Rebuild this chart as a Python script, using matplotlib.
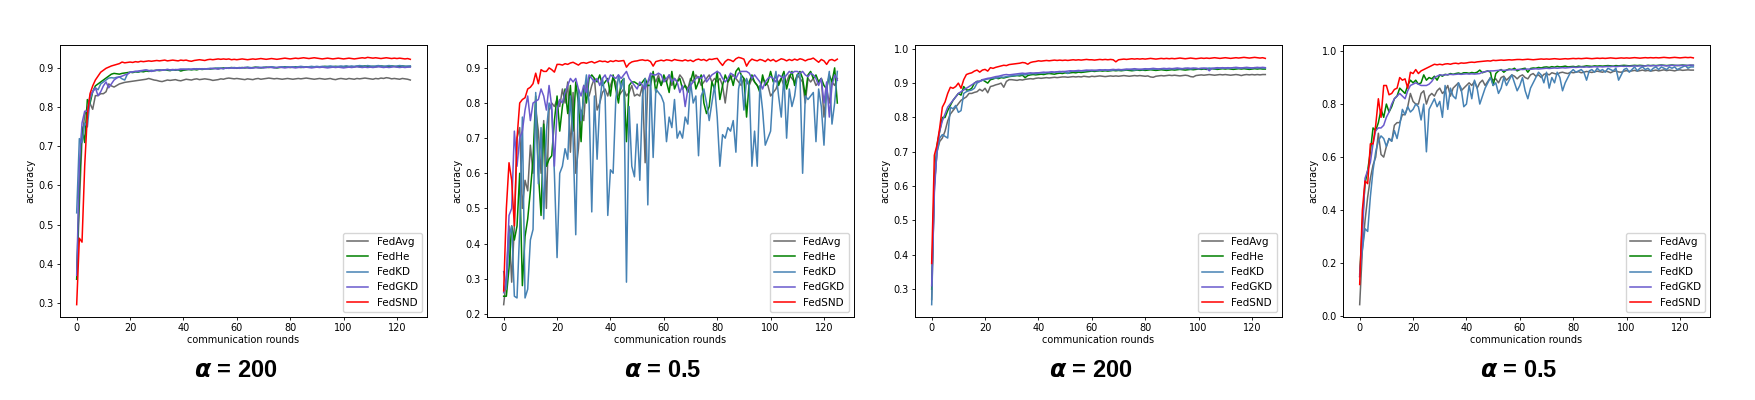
import numpy as np
import matplotlib
matplotlib.use('Agg')
import matplotlib.pyplot as plt

plt.rcParams['mathtext.fontset'] = 'custom'
plt.rcParams['mathtext.it'] = 'DejaVu Sans:italic:bold'

methods = ['FedAvg', 'FedHe', 'FedKD', 'FedGKD', 'FedSND']
colors = ['dimgray', 'green', 'steelblue', 'slateblue', 'red']
titles = ['200', '0.5', '200', '0.5']

# ---- panel 1 : alpha = 200 ----
p1_avg = [0.360, 0.550, 0.720, 0.780, 0.800, 0.810, 0.795, 0.830, 0.830, 0.835,
          0.835, 0.840, 0.860, 0.855, 0.852, 0.856, 0.860, 0.862, 0.864, 0.865,
          0.866, 0.867, 0.868, 0.869, 0.870, 0.871, 0.872, 0.874, 0.872, 0.870,
          0.869, 0.867, 0.866, 0.868, 0.870, 0.869, 0.870, 0.871, 0.869, 0.868,
          0.870, 0.872, 0.871, 0.870, 0.872, 0.873, 0.871, 0.872, 0.873, 0.872,
          0.871, 0.869, 0.870, 0.871, 0.873, 0.872, 0.874, 0.875, 0.874, 0.873,
          0.874, 0.873, 0.872, 0.871, 0.873, 0.872, 0.871, 0.873, 0.874, 0.872,
          0.873, 0.874, 0.875, 0.874, 0.873, 0.874, 0.873, 0.872, 0.873, 0.874,
          0.873, 0.872, 0.873, 0.874, 0.873, 0.874, 0.875, 0.874, 0.873, 0.872,
          0.873, 0.874, 0.873, 0.872, 0.873, 0.874, 0.872, 0.871, 0.873, 0.874,
          0.873, 0.872, 0.874, 0.873, 0.872, 0.874, 0.873, 0.874, 0.875, 0.874,
          0.873, 0.872, 0.874, 0.873, 0.875, 0.874, 0.876, 0.875, 0.873, 0.874,
          0.873, 0.872, 0.874, 0.873, 0.872, 0.870]
p1_he = [0.360, 0.600, 0.750, 0.710, 0.820, 0.810, 0.840, 0.855, 0.860, 0.865,
         0.870, 0.875, 0.880, 0.885, 0.887, 0.886, 0.885, 0.887, 0.888, 0.889,
         0.890, 0.889, 0.891, 0.890, 0.892, 0.891, 0.893, 0.892, 0.893, 0.894,
         0.895, 0.894, 0.895, 0.896, 0.895, 0.894, 0.896, 0.895, 0.896, 0.893,
         0.895, 0.896, 0.897, 0.896, 0.897, 0.896, 0.898, 0.897, 0.898, 0.899,
         0.898, 0.899, 0.900, 0.899, 0.900, 0.901, 0.900, 0.901, 0.902, 0.901,
         0.900, 0.901, 0.902, 0.901, 0.902, 0.901, 0.902, 0.903, 0.902, 0.901,
         0.902, 0.903, 0.902, 0.903, 0.902, 0.901, 0.902, 0.903, 0.904, 0.903,
         0.902, 0.903, 0.904, 0.903, 0.902, 0.903, 0.904, 0.903, 0.904, 0.903,
         0.904, 0.903, 0.904, 0.905, 0.904, 0.903, 0.904, 0.905, 0.904, 0.903,
         0.904, 0.905, 0.904, 0.903, 0.904, 0.905, 0.904, 0.905, 0.906, 0.905,
         0.904, 0.905, 0.904, 0.905, 0.906, 0.905, 0.904, 0.905, 0.906, 0.905,
         0.904, 0.905, 0.906, 0.905, 0.904, 0.905]
p1_kd = [0.530, 0.720, 0.710, 0.760, 0.750, 0.820, 0.840, 0.850, 0.845, 0.860,
         0.865, 0.870, 0.875, 0.876, 0.875, 0.877, 0.878, 0.873, 0.870, 0.885,
         0.890, 0.891, 0.892, 0.891, 0.893, 0.894, 0.895, 0.894, 0.895, 0.894,
         0.895, 0.896, 0.895, 0.896, 0.897, 0.896, 0.895, 0.897, 0.896, 0.897,
         0.898, 0.897, 0.898, 0.897, 0.898, 0.899, 0.898, 0.899, 0.898, 0.899,
         0.900, 0.899, 0.900, 0.901, 0.900, 0.899, 0.901, 0.900, 0.901, 0.902,
         0.901, 0.902, 0.901, 0.902, 0.903, 0.902, 0.901, 0.902, 0.903, 0.902,
         0.903, 0.902, 0.903, 0.904, 0.903, 0.902, 0.903, 0.904, 0.903, 0.904,
         0.903, 0.904, 0.903, 0.904, 0.905, 0.904, 0.903, 0.904, 0.905, 0.904,
         0.905, 0.904, 0.905, 0.904, 0.905, 0.906, 0.905, 0.904, 0.905, 0.906,
         0.905, 0.906, 0.905, 0.906, 0.905, 0.906, 0.907, 0.906, 0.905, 0.907,
         0.906, 0.905, 0.906, 0.907, 0.906, 0.905, 0.906, 0.907, 0.906, 0.905,
         0.906, 0.907, 0.906, 0.905, 0.906, 0.906]
p1_gkd = [0.370, 0.650, 0.760, 0.790, 0.790, 0.830, 0.840, 0.850, 0.830, 0.840,
          0.855, 0.865, 0.850, 0.860, 0.870, 0.875, 0.878, 0.880, 0.883, 0.885,
          0.890, 0.891, 0.892, 0.893, 0.894, 0.895, 0.896, 0.894, 0.892, 0.894,
          0.895, 0.896, 0.895, 0.896, 0.897, 0.896, 0.897, 0.896, 0.897, 0.898,
          0.897, 0.898, 0.897, 0.898, 0.899, 0.898, 0.899, 0.898, 0.899, 0.898,
          0.899, 0.900, 0.899, 0.898, 0.900, 0.899, 0.901, 0.900, 0.901, 0.900,
          0.901, 0.900, 0.901, 0.902, 0.901, 0.900, 0.901, 0.902, 0.901, 0.902,
          0.901, 0.902, 0.903, 0.902, 0.901, 0.902, 0.903, 0.902, 0.901, 0.902,
          0.903, 0.902, 0.901, 0.902, 0.903, 0.902, 0.903, 0.902, 0.901, 0.902,
          0.903, 0.902, 0.903, 0.902, 0.901, 0.902, 0.903, 0.902, 0.903, 0.902,
          0.901, 0.902, 0.903, 0.902, 0.903, 0.904, 0.903, 0.902, 0.903, 0.902,
          0.903, 0.902, 0.903, 0.904, 0.903, 0.902, 0.903, 0.902, 0.903, 0.904,
          0.903, 0.902, 0.903, 0.902, 0.903, 0.903]
p1_snd = [0.295, 0.465, 0.455, 0.650, 0.780, 0.835, 0.855, 0.870, 0.880, 0.890,
          0.895, 0.900, 0.903, 0.906, 0.908, 0.910, 0.912, 0.916, 0.914, 0.915,
          0.916, 0.915, 0.917, 0.916, 0.918, 0.917, 0.918, 0.919, 0.918, 0.919,
          0.920, 0.919, 0.920, 0.921, 0.919, 0.920, 0.921, 0.920, 0.919, 0.921,
          0.920, 0.921, 0.919, 0.918, 0.920, 0.921, 0.922, 0.921, 0.920, 0.922,
          0.923, 0.922, 0.923, 0.924, 0.923, 0.924, 0.923, 0.924, 0.922, 0.923,
          0.922, 0.923, 0.924, 0.923, 0.922, 0.923, 0.924, 0.923, 0.924, 0.925,
          0.924, 0.923, 0.924, 0.925, 0.924, 0.923, 0.924, 0.925, 0.926, 0.925,
          0.924, 0.925, 0.926, 0.925, 0.926, 0.927, 0.926, 0.925, 0.926, 0.927,
          0.926, 0.925, 0.924, 0.925, 0.926, 0.925, 0.924, 0.925, 0.926, 0.925,
          0.924, 0.925, 0.926, 0.925, 0.924, 0.925, 0.926, 0.927, 0.926, 0.928,
          0.927, 0.926, 0.927, 0.926, 0.925, 0.926, 0.927, 0.926, 0.925, 0.926,
          0.925, 0.926, 0.925, 0.924, 0.925, 0.923]

# ---- panel 2 : alpha = 0.5 ----
p2_avg = [0.226, 0.300, 0.450, 0.290, 0.450, 0.700, 0.730, 0.500, 0.580, 0.550,
          0.680, 0.600, 0.780, 0.720, 0.600, 0.750, 0.500, 0.780, 0.800, 0.790,
          0.810, 0.790, 0.840, 0.800, 0.860, 0.660, 0.830, 0.600, 0.670, 0.780,
          0.750, 0.860, 0.820, 0.850, 0.870, 0.780, 0.800, 0.830, 0.840, 0.820,
          0.850, 0.870, 0.860, 0.820, 0.830, 0.840, 0.820, 0.830, 0.850, 0.820,
          0.825, 0.820, 0.850, 0.630, 0.860, 0.870, 0.880, 0.860, 0.880, 0.850,
          0.870, 0.860, 0.880, 0.850, 0.870, 0.860, 0.880, 0.870, 0.850, 0.840,
          0.870, 0.860, 0.880, 0.870, 0.850, 0.860, 0.870, 0.880, 0.860, 0.870,
          0.860, 0.870, 0.850, 0.800, 0.860, 0.870, 0.880, 0.870, 0.860, 0.850,
          0.870, 0.860, 0.850, 0.870, 0.860, 0.850, 0.840, 0.870, 0.860, 0.850,
          0.820, 0.830, 0.840, 0.860, 0.870, 0.850, 0.860, 0.880, 0.870, 0.860,
          0.880, 0.870, 0.860, 0.800, 0.870, 0.860, 0.870, 0.850, 0.860, 0.870,
          0.760, 0.840, 0.800, 0.860, 0.850, 0.870]
p2_he = [0.250, 0.250, 0.330, 0.450, 0.410, 0.450, 0.600, 0.280, 0.420, 0.470,
         0.550, 0.640, 0.820, 0.600, 0.480, 0.740, 0.620, 0.640, 0.650, 0.750,
         0.820, 0.720, 0.790, 0.840, 0.770, 0.850, 0.720, 0.860, 0.800, 0.690,
         0.850, 0.800, 0.870, 0.880, 0.870, 0.860, 0.880, 0.850, 0.860, 0.870,
         0.820, 0.880, 0.840, 0.800, 0.860, 0.870, 0.690, 0.850, 0.860, 0.860,
         0.855, 0.850, 0.860, 0.870, 0.850, 0.850, 0.890, 0.830, 0.870, 0.850,
         0.880, 0.860, 0.830, 0.890, 0.840, 0.860, 0.870, 0.840, 0.850, 0.830,
         0.860, 0.890, 0.840, 0.860, 0.880, 0.800, 0.770, 0.790, 0.860, 0.840,
         0.890, 0.810, 0.850, 0.880, 0.860, 0.880, 0.850, 0.890, 0.900, 0.880,
         0.870, 0.760, 0.860, 0.880, 0.860, 0.850, 0.830, 0.880, 0.850, 0.860,
         0.890, 0.860, 0.880, 0.850, 0.870, 0.890, 0.840, 0.870, 0.890, 0.850,
         0.880, 0.890, 0.870, 0.820, 0.880, 0.890, 0.870, 0.880, 0.860, 0.870,
         0.850, 0.840, 0.880, 0.860, 0.900, 0.800]
p2_kd = [0.320, 0.270, 0.420, 0.450, 0.250, 0.245, 0.440, 0.760, 0.245, 0.270,
         0.410, 0.440, 0.830, 0.570, 0.730, 0.470, 0.720, 0.800, 0.780, 0.600,
         0.360, 0.600, 0.620, 0.670, 0.640, 0.820, 0.700, 0.425, 0.840, 0.750,
         0.820, 0.880, 0.800, 0.490, 0.820, 0.640, 0.800, 0.870, 0.820, 0.480,
         0.610, 0.600, 0.810, 0.880, 0.840, 0.870, 0.290, 0.790, 0.620, 0.590,
         0.740, 0.580, 0.820, 0.870, 0.510, 0.880, 0.645, 0.840, 0.830, 0.820,
         0.800, 0.690, 0.760, 0.730, 0.810, 0.700, 0.720, 0.700, 0.760, 0.740,
         0.860, 0.800, 0.820, 0.650, 0.820, 0.840, 0.800, 0.750, 0.800, 0.850,
         0.760, 0.620, 0.710, 0.700, 0.730, 0.720, 0.750, 0.660, 0.840, 0.880,
         0.780, 0.870, 0.850, 0.620, 0.720, 0.620, 0.850, 0.780, 0.680, 0.700,
         0.720, 0.850, 0.890, 0.820, 0.760, 0.880, 0.700, 0.840, 0.790, 0.820,
         0.880, 0.880, 0.600, 0.820, 0.810, 0.820, 0.830, 0.690, 0.840, 0.790,
         0.680, 0.840, 0.890, 0.740, 0.800, 0.890]
p2_gkd = [0.260, 0.300, 0.480, 0.500, 0.720, 0.620, 0.700, 0.720, 0.780, 0.820,
          0.750, 0.800, 0.805, 0.810, 0.840, 0.820, 0.780, 0.850, 0.790, 0.620,
          0.780, 0.810, 0.800, 0.830, 0.850, 0.870, 0.860, 0.870, 0.840, 0.820,
          0.850, 0.830, 0.880, 0.870, 0.860, 0.870, 0.850, 0.870, 0.880, 0.860,
          0.880, 0.875, 0.870, 0.880, 0.870, 0.880, 0.890, 0.870, 0.860, 0.850,
          0.840, 0.860, 0.850, 0.840, 0.860, 0.885, 0.880, 0.880, 0.885, 0.880,
          0.860, 0.870, 0.880, 0.860, 0.870, 0.860, 0.830, 0.850, 0.790, 0.840,
          0.850, 0.860, 0.870, 0.875, 0.870, 0.880, 0.860, 0.870, 0.880, 0.885,
          0.890, 0.885, 0.870, 0.860, 0.870, 0.885, 0.880, 0.870, 0.885, 0.890,
          0.890, 0.890, 0.885, 0.870, 0.880, 0.870, 0.860, 0.840, 0.860, 0.870,
          0.875, 0.870, 0.860, 0.880, 0.875, 0.870, 0.880, 0.890, 0.885, 0.890,
          0.890, 0.885, 0.890, 0.880, 0.875, 0.885, 0.880, 0.870, 0.850, 0.870,
          0.800, 0.860, 0.760, 0.850, 0.880, 0.865]
p2_snd = [0.265, 0.500, 0.630, 0.580, 0.450, 0.700, 0.800, 0.810, 0.815, 0.840,
          0.845, 0.855, 0.885, 0.855, 0.895, 0.890, 0.890, 0.900, 0.895, 0.888,
          0.910, 0.910, 0.908, 0.912, 0.910, 0.914, 0.916, 0.912, 0.908, 0.914,
          0.915, 0.913, 0.916, 0.918, 0.914, 0.917, 0.920, 0.918, 0.919, 0.916,
          0.920, 0.918, 0.921, 0.919, 0.920, 0.921, 0.902, 0.912, 0.917, 0.919,
          0.920, 0.922, 0.923, 0.921, 0.922, 0.918, 0.905, 0.918, 0.920, 0.922,
          0.920, 0.923, 0.922, 0.920, 0.924, 0.922, 0.921, 0.920, 0.923, 0.920,
          0.922, 0.918, 0.923, 0.925, 0.922, 0.924, 0.920, 0.925, 0.924, 0.926,
          0.927, 0.916, 0.907, 0.918, 0.924, 0.922, 0.918, 0.926, 0.930, 0.928,
          0.925, 0.905, 0.918, 0.925, 0.922, 0.920, 0.924, 0.922, 0.918, 0.925,
          0.920, 0.924, 0.918, 0.922, 0.926, 0.924, 0.920, 0.924, 0.921, 0.925,
          0.922, 0.926, 0.924, 0.920, 0.924, 0.925, 0.928, 0.922, 0.916, 0.924,
          0.920, 0.910, 0.922, 0.924, 0.920, 0.925]

# ---- panel 3 : alpha = 200 ----
p3_avg = [0.270, 0.600, 0.700, 0.730, 0.740, 0.760, 0.790, 0.810, 0.820, 0.830,
          0.840, 0.850, 0.855, 0.860, 0.870, 0.870, 0.873, 0.875, 0.882, 0.877,
          0.885, 0.872, 0.890, 0.892, 0.895, 0.897, 0.900, 0.888, 0.905, 0.910,
          0.910, 0.909, 0.908, 0.910, 0.909, 0.911, 0.912, 0.913, 0.912, 0.914,
          0.915, 0.914, 0.915, 0.916, 0.915, 0.916, 0.917, 0.916, 0.917, 0.918,
          0.918, 0.917, 0.918, 0.919, 0.918, 0.919, 0.918, 0.920, 0.919, 0.918,
          0.920, 0.919, 0.920, 0.921, 0.920, 0.919, 0.920, 0.921, 0.920, 0.921,
          0.920, 0.921, 0.922, 0.921, 0.920, 0.921, 0.922, 0.921, 0.922, 0.921,
          0.920, 0.921, 0.918, 0.917, 0.920, 0.921, 0.922, 0.921, 0.922, 0.923,
          0.922, 0.923, 0.922, 0.921, 0.922, 0.923, 0.922, 0.919, 0.918, 0.922,
          0.923, 0.924, 0.923, 0.924, 0.925, 0.924, 0.923, 0.924, 0.925, 0.924,
          0.925, 0.924, 0.923, 0.924, 0.925, 0.924, 0.922, 0.924, 0.925, 0.924,
          0.925, 0.924, 0.925, 0.924, 0.925, 0.925]
p3_he = [0.300, 0.620, 0.720, 0.760, 0.800, 0.800, 0.820, 0.835, 0.850, 0.860,
         0.870, 0.865, 0.890, 0.880, 0.880, 0.885, 0.900, 0.905, 0.905, 0.910,
         0.905, 0.900, 0.910, 0.912, 0.915, 0.913, 0.916, 0.915, 0.917, 0.919,
         0.920, 0.921, 0.922, 0.921, 0.923, 0.916, 0.922, 0.924, 0.925, 0.924,
         0.925, 0.926, 0.925, 0.927, 0.928, 0.927, 0.926, 0.928, 0.929, 0.928,
         0.930, 0.929, 0.930, 0.931, 0.930, 0.932, 0.931, 0.932, 0.933, 0.934,
         0.935, 0.934, 0.935, 0.936, 0.935, 0.936, 0.935, 0.936, 0.937, 0.936,
         0.937, 0.936, 0.937, 0.938, 0.937, 0.936, 0.937, 0.938, 0.937, 0.938,
         0.937, 0.938, 0.939, 0.938, 0.937, 0.938, 0.939, 0.938, 0.937, 0.938,
         0.939, 0.938, 0.939, 0.940, 0.939, 0.938, 0.939, 0.940, 0.939, 0.940,
         0.941, 0.940, 0.941, 0.940, 0.941, 0.942, 0.941, 0.940, 0.941, 0.942,
         0.941, 0.942, 0.941, 0.940, 0.941, 0.942, 0.941, 0.942, 0.941, 0.940,
         0.941, 0.942, 0.941, 0.942, 0.941, 0.941]
p3_kd = [0.255, 0.600, 0.700, 0.740, 0.750, 0.745, 0.740, 0.830, 0.825, 0.835,
         0.815, 0.820, 0.870, 0.875, 0.878, 0.880, 0.885, 0.900, 0.905, 0.908,
         0.910, 0.912, 0.913, 0.915, 0.914, 0.916, 0.918, 0.917, 0.919, 0.920,
         0.921, 0.922, 0.923, 0.924, 0.925, 0.924, 0.926, 0.927, 0.928, 0.927,
         0.929, 0.930, 0.929, 0.931, 0.930, 0.932, 0.931, 0.933, 0.932, 0.934,
         0.933, 0.928, 0.934, 0.935, 0.934, 0.935, 0.936, 0.935, 0.936, 0.937,
         0.936, 0.937, 0.936, 0.937, 0.938, 0.937, 0.938, 0.937, 0.938, 0.939,
         0.938, 0.939, 0.938, 0.939, 0.940, 0.939, 0.938, 0.939, 0.940, 0.939,
         0.940, 0.941, 0.940, 0.941, 0.940, 0.941, 0.942, 0.941, 0.940, 0.941,
         0.942, 0.941, 0.942, 0.941, 0.942, 0.943, 0.942, 0.941, 0.942, 0.943,
         0.942, 0.943, 0.942, 0.943, 0.944, 0.943, 0.942, 0.943, 0.944, 0.943,
         0.944, 0.943, 0.944, 0.945, 0.944, 0.943, 0.944, 0.945, 0.944, 0.943,
         0.944, 0.945, 0.944, 0.945, 0.944, 0.944]
p3_gkd = [0.310, 0.580, 0.710, 0.760, 0.790, 0.810, 0.830, 0.840, 0.850, 0.860,
          0.870, 0.875, 0.880, 0.885, 0.890, 0.895, 0.900, 0.905, 0.905, 0.910,
          0.912, 0.914, 0.915, 0.917, 0.919, 0.920, 0.922, 0.924, 0.925, 0.924,
          0.925, 0.926, 0.927, 0.928, 0.929, 0.928, 0.929, 0.930, 0.929, 0.930,
          0.930, 0.931, 0.932, 0.931, 0.932, 0.933, 0.932, 0.933, 0.934, 0.933,
          0.934, 0.935, 0.936, 0.935, 0.936, 0.937, 0.936, 0.937, 0.938, 0.937,
          0.938, 0.937, 0.938, 0.939, 0.938, 0.939, 0.938, 0.939, 0.940, 0.939,
          0.940, 0.939, 0.940, 0.941, 0.940, 0.941, 0.942, 0.941, 0.940, 0.941,
          0.942, 0.941, 0.942, 0.943, 0.942, 0.941, 0.942, 0.943, 0.942, 0.943,
          0.942, 0.943, 0.944, 0.943, 0.942, 0.943, 0.944, 0.943, 0.944, 0.943,
          0.942, 0.943, 0.944, 0.943, 0.936, 0.943, 0.944, 0.945, 0.944, 0.945,
          0.944, 0.945, 0.944, 0.945, 0.946, 0.945, 0.944, 0.945, 0.946, 0.945,
          0.944, 0.945, 0.946, 0.945, 0.946, 0.945]
p3_snd = [0.375, 0.690, 0.720, 0.770, 0.830, 0.845, 0.870, 0.888, 0.885, 0.890,
          0.900, 0.885, 0.910, 0.925, 0.928, 0.930, 0.935, 0.938, 0.932, 0.938,
          0.940, 0.935, 0.945, 0.943, 0.946, 0.948, 0.950, 0.952, 0.951, 0.954,
          0.955, 0.956, 0.957, 0.958, 0.960, 0.959, 0.955, 0.960, 0.962, 0.963,
          0.965, 0.964, 0.965, 0.966, 0.965, 0.966, 0.967, 0.966, 0.967, 0.966,
          0.967, 0.966, 0.967, 0.968, 0.967, 0.968, 0.967, 0.968, 0.969, 0.968,
          0.968, 0.967, 0.968, 0.969, 0.968, 0.969, 0.968, 0.969, 0.968, 0.962,
          0.968, 0.969, 0.970, 0.969, 0.970, 0.971, 0.970, 0.971, 0.970, 0.971,
          0.970, 0.971, 0.972, 0.971, 0.970, 0.971, 0.972, 0.971, 0.972, 0.971,
          0.972, 0.971, 0.972, 0.973, 0.972, 0.971, 0.972, 0.973, 0.972, 0.971,
          0.972, 0.973, 0.972, 0.973, 0.972, 0.973, 0.974, 0.973, 0.972, 0.973,
          0.974, 0.973, 0.972, 0.973, 0.974, 0.973, 0.974, 0.975, 0.974, 0.973,
          0.974, 0.975, 0.974, 0.973, 0.974, 0.972]

# ---- panel 4 : alpha = 0.5 ----
p4_avg = [0.044, 0.250, 0.360, 0.450, 0.520, 0.570, 0.600, 0.690, 0.610, 0.600,
          0.640, 0.670, 0.660, 0.720, 0.730, 0.730, 0.760, 0.760, 0.790, 0.840,
          0.810, 0.800, 0.800, 0.840, 0.850, 0.800, 0.830, 0.840, 0.830, 0.850,
          0.860, 0.840, 0.850, 0.870, 0.830, 0.860, 0.870, 0.880, 0.850, 0.860,
          0.870, 0.880, 0.870, 0.885, 0.860, 0.880, 0.890, 0.870, 0.885, 0.900,
          0.890, 0.895, 0.880, 0.900, 0.905, 0.890, 0.900, 0.910, 0.905, 0.895,
          0.905, 0.910, 0.900, 0.895, 0.910, 0.915, 0.905, 0.910, 0.900, 0.912,
          0.915, 0.910, 0.918, 0.915, 0.912, 0.918, 0.920, 0.917, 0.915, 0.920,
          0.918, 0.920, 0.922, 0.918, 0.920, 0.923, 0.921, 0.919, 0.922, 0.924,
          0.922, 0.920, 0.924, 0.922, 0.918, 0.923, 0.925, 0.921, 0.920, 0.924,
          0.926, 0.923, 0.925, 0.927, 0.924, 0.926, 0.928, 0.925, 0.927, 0.924,
          0.926, 0.928, 0.925, 0.927, 0.929, 0.926, 0.928, 0.927, 0.925, 0.928,
          0.929, 0.927, 0.928, 0.929, 0.928, 0.928]
p4_he = [0.150, 0.350, 0.500, 0.550, 0.620, 0.710, 0.700, 0.730, 0.780, 0.750,
         0.800, 0.770, 0.790, 0.820, 0.830, 0.860, 0.850, 0.840, 0.870, 0.890,
         0.880, 0.890, 0.875, 0.880, 0.910, 0.890, 0.900, 0.895, 0.905, 0.890,
         0.910, 0.905, 0.912, 0.910, 0.915, 0.912, 0.915, 0.917, 0.914, 0.918,
         0.918, 0.916, 0.919, 0.917, 0.920, 0.928, 0.918, 0.922, 0.925, 0.920,
         0.870, 0.915, 0.925, 0.930, 0.920, 0.928, 0.932, 0.930, 0.935, 0.925,
         0.930, 0.933, 0.935, 0.920, 0.934, 0.936, 0.935, 0.938, 0.936, 0.939,
         0.940, 0.938, 0.941, 0.939, 0.942, 0.940, 0.941, 0.943, 0.940, 0.941,
         0.942, 0.940, 0.943, 0.941, 0.942, 0.944, 0.943, 0.942, 0.944, 0.943,
         0.944, 0.943, 0.944, 0.945, 0.944, 0.943, 0.945, 0.944, 0.945, 0.946,
         0.945, 0.944, 0.945, 0.946, 0.945, 0.946, 0.945, 0.944, 0.946, 0.945,
         0.946, 0.945, 0.946, 0.947, 0.946, 0.945, 0.946, 0.947, 0.946, 0.945,
         0.946, 0.947, 0.946, 0.945, 0.946, 0.946]
p4_kd = [0.160, 0.250, 0.330, 0.320, 0.450, 0.550, 0.620, 0.660, 0.680, 0.670,
         0.640, 0.670, 0.660, 0.700, 0.670, 0.720, 0.780, 0.760, 0.790, 0.770,
         0.780, 0.800, 0.790, 0.740, 0.800, 0.620, 0.780, 0.800, 0.820, 0.790,
         0.810, 0.750, 0.870, 0.780, 0.860, 0.830, 0.820, 0.880, 0.860, 0.790,
         0.800, 0.870, 0.820, 0.890, 0.860, 0.800, 0.830, 0.860, 0.880, 0.900,
         0.870, 0.880, 0.840, 0.860, 0.900, 0.870, 0.890, 0.910, 0.880, 0.850,
         0.870, 0.900, 0.850, 0.820, 0.860, 0.880, 0.900, 0.920, 0.910, 0.880,
         0.920, 0.860, 0.900, 0.880, 0.920, 0.900, 0.850, 0.880, 0.900, 0.920,
         0.930, 0.920, 0.925, 0.930, 0.920, 0.890, 0.925, 0.930, 0.920, 0.935,
         0.925, 0.930, 0.920, 0.935, 0.930, 0.925, 0.935, 0.890, 0.910, 0.930,
         0.935, 0.920, 0.930, 0.940, 0.925, 0.935, 0.940, 0.930, 0.935, 0.925,
         0.935, 0.940, 0.930, 0.940, 0.935, 0.930, 0.940, 0.935, 0.940, 0.930,
         0.935, 0.940, 0.945, 0.935, 0.940, 0.940]
p4_gkd = [0.150, 0.300, 0.520, 0.550, 0.580, 0.650, 0.700, 0.710, 0.710, 0.720,
          0.750, 0.770, 0.800, 0.820, 0.830, 0.840, 0.830, 0.820, 0.850, 0.870,
          0.875, 0.880, 0.875, 0.870, 0.870, 0.870, 0.875, 0.885, 0.900, 0.905,
          0.910, 0.909, 0.910, 0.911, 0.912, 0.911, 0.912, 0.913, 0.912, 0.913,
          0.914, 0.913, 0.914, 0.913, 0.914, 0.915, 0.920, 0.922, 0.924, 0.925,
          0.925, 0.926, 0.927, 0.928, 0.927, 0.928, 0.929, 0.930, 0.929, 0.930,
          0.931, 0.930, 0.931, 0.932, 0.931, 0.932, 0.933, 0.932, 0.933, 0.934,
          0.935, 0.934, 0.935, 0.936, 0.935, 0.936, 0.937, 0.936, 0.937, 0.938,
          0.939, 0.938, 0.939, 0.940, 0.939, 0.940, 0.939, 0.940, 0.941, 0.940,
          0.941, 0.940, 0.941, 0.942, 0.941, 0.942, 0.941, 0.942, 0.943, 0.942,
          0.943, 0.942, 0.943, 0.944, 0.943, 0.944, 0.943, 0.944, 0.945, 0.944,
          0.945, 0.944, 0.945, 0.946, 0.945, 0.944, 0.945, 0.946, 0.945, 0.946,
          0.945, 0.946, 0.945, 0.946, 0.947, 0.946]
p4_snd = [0.120, 0.400, 0.510, 0.500, 0.650, 0.650, 0.720, 0.820, 0.750, 0.870,
          0.870, 0.835, 0.840, 0.855, 0.860, 0.900, 0.890, 0.895, 0.860, 0.920,
          0.915, 0.930, 0.915, 0.925, 0.930, 0.935, 0.940, 0.945, 0.950, 0.948,
          0.950, 0.948, 0.951, 0.952, 0.950, 0.953, 0.954, 0.952, 0.955, 0.954,
          0.955, 0.957, 0.958, 0.957, 0.959, 0.960, 0.961, 0.962, 0.963, 0.962,
          0.965, 0.964, 0.965, 0.966, 0.965, 0.966, 0.967, 0.966, 0.967, 0.968,
          0.968, 0.967, 0.968, 0.969, 0.968, 0.967, 0.968, 0.969, 0.970, 0.969,
          0.970, 0.969, 0.970, 0.971, 0.970, 0.969, 0.970, 0.971, 0.970, 0.971,
          0.972, 0.971, 0.972, 0.971, 0.972, 0.973, 0.972, 0.971, 0.972, 0.973,
          0.972, 0.973, 0.972, 0.973, 0.974, 0.973, 0.972, 0.973, 0.974, 0.973,
          0.974, 0.973, 0.974, 0.975, 0.974, 0.973, 0.974, 0.975, 0.974, 0.975,
          0.974, 0.975, 0.974, 0.975, 0.976, 0.975, 0.974, 0.975, 0.976, 0.975,
          0.974, 0.975, 0.976, 0.975, 0.976, 0.974]

panels = [
    [p1_avg, p1_he, p1_kd, p1_gkd, p1_snd],
    [p2_avg, p2_he, p2_kd, p2_gkd, p2_snd],
    [p3_avg, p3_he, p3_kd, p3_gkd, p3_snd],
    [p4_avg, p4_he, p4_kd, p4_gkd, p4_snd],
]

fig = plt.figure(figsize=(17.56, 4), dpi=100)
lefts = [60, 487, 915, 1343]

for i, series in enumerate(panels):
    ax = fig.add_axes([lefts[i] / 1756, 1 - 317 / 400, 367 / 1756, 272 / 400])
    for vals, name, c in zip(series, methods, colors):
        ax.plot(np.arange(len(vals)), vals, color=c, lw=1.1, label=name)
    ax.set_xticks([0, 20, 40, 60, 80, 100, 120])
    ax.tick_params(labelsize=7, length=2.5, width=0.6, pad=2)
    for s in ax.spines.values():
        s.set_linewidth(0.7)
    ax.set_xlabel('communication rounds', fontsize=7, labelpad=1)
    ax.set_ylabel('accuracy', fontsize=7, labelpad=2)
    ax.legend(loc='lower right', fontsize=7.5, handlelength=2.0)
    ax.text(0.48, -0.195, r'$\alpha$ = ' + titles[i], transform=ax.transAxes,
            ha='center', va='center', fontsize=17, fontweight='bold',
            family='Liberation Sans')

fig.savefig('out.png', dpi=100)
